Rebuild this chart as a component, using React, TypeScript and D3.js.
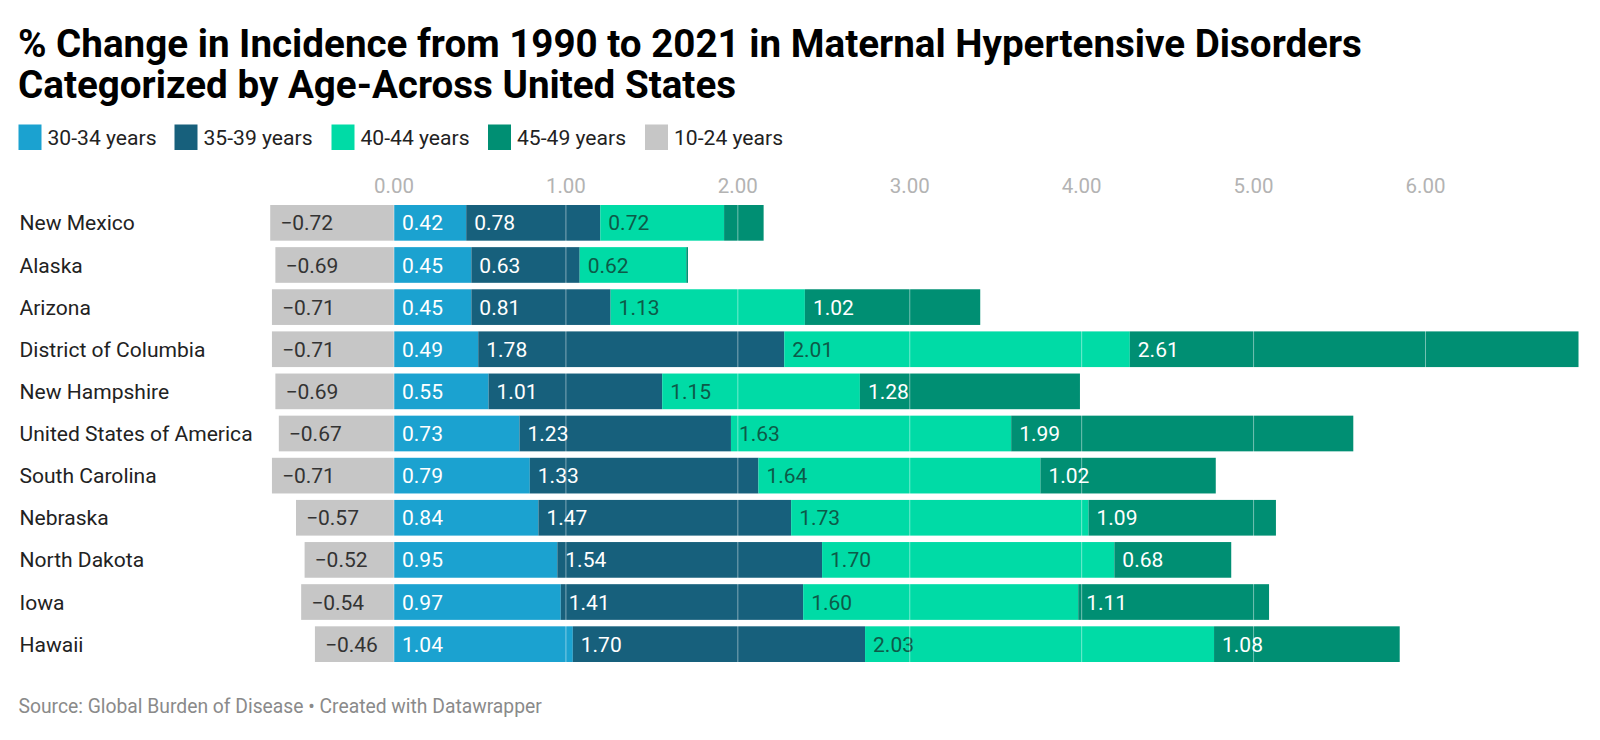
import React from "react";
import * as d3 from "d3";

const states = [
  "New Mexico",
  "Alaska",
  "Arizona",
  "District of Columbia",
  "New Hampshire",
  "United States of America",
  "South Carolina",
  "Nebraska",
  "North Dakota",
  "Iowa",
  "Hawaii",
];

const age1024 = [-0.72, -0.69, -0.71, -0.71, -0.69, -0.67, -0.71, -0.57, -0.52, -0.54, -0.46];
const age3034 = [0.42, 0.45, 0.45, 0.49, 0.55, 0.73, 0.79, 0.84, 0.95, 0.97, 1.04];
const age3539 = [0.78, 0.63, 0.81, 1.78, 1.01, 1.23, 1.33, 1.47, 1.54, 1.41, 1.7];
const age4044 = [0.72, 0.62, 1.13, 2.01, 1.15, 1.63, 1.64, 1.73, 1.7, 1.6, 2.03];
const age4549 = [0.23, 0.01, 1.02, 2.61, 1.28, 1.99, 1.02, 1.09, 0.68, 1.11, 1.08];

const legendNames = ["30-34 years", "35-39 years", "40-44 years", "45-49 years", "10-24 years"];
const seriesColors = ["#1ba2d0", "#17607c", "#00dba6", "#008f73"];
const negColor = "#c6c6c6";
const legendColors = [...seriesColors, negColor];
const tickValues = [0, 1, 2, 3, 4, 5, 6];

const positiveSeries = [age3034, age3539, age4044, age4549];
const labelColors = ["#ffffff", "#ffffff", "#0d5a48", "#ffffff"];

const fmt = (v: number) => (v < 0 ? "\u2212" + Math.abs(v).toFixed(2) : v.toFixed(2));

export default function App() {
  const width = 1600;
  const height = 740;
  const x = d3.scaleLinear().domain([0, 6]).range([394, 1425.5]);
  const y = d3
    .scaleBand()
    .domain(states)
    .range([205, 662])
    .paddingInner(0.153)
    .paddingOuter(0);
  const bh = y.bandwidth();
  const font = "Roboto, 'Noto Sans', sans-serif";

  const legendX = [18.5, 174.5, 331.5, 488, 645];

  return (
    <>
      <style>{`html,body{margin:0;padding:0;overflow:hidden;}`}</style>
      <svg
        width={width}
        height={height}
        style={{ display: "block", background: "#fff" }}
        fontFamily={font}
      >
        <text x={18} y={57} fontSize={38.6} fontWeight={700} fill="#000">
          % Change in Incidence from 1990 to 2021 in Maternal Hypertensive Disorders
        </text>
        <text x={18} y={98} fontSize={38.6} fontWeight={700} fill="#000">
          Categorized by Age-Across United States
        </text>

        {legendNames.map((n, i) => (
          <g key={n}>
            <rect x={legendX[i]} y={124.5} width={23} height={25.5} fill={legendColors[i]} />
            <text x={legendX[i] + 29} y={144.5} fontSize={21.1} fill="#222">
              {n}
            </text>
          </g>
        ))}

        {tickValues.map((t) => (
          <text key={t} x={x(t)} y={193} fontSize={20.5} fill="#b3b3b3" textAnchor="middle">
            {t.toFixed(2)}
          </text>
        ))}

        {states.map((s, i) => {
          const yy = y(s) as number;
          const cy = yy + bh / 2;
          let cum = 0;
          const segs = positiveSeries.map((ser, k) => {
            const v = ser[i];
            const x0 = x(cum);
            cum += v;
            const x1 = x(cum);
            return { k, v, x0, x1 };
          });
          const neg = age1024[i];
          return (
            <g key={s}>
              <text x={19.5} y={cy + 7.6} fontSize={21.05} fill="#222">
                {s}
              </text>
              <rect x={x(neg)} y={yy} width={x(0) - x(neg)} height={bh} fill={negColor} />
              <text x={x(neg) + 10} y={cy + 7.6} fontSize={21} fill="#333">
                {fmt(neg)}
              </text>
              {segs.map((sg) => (
                <rect
                  key={sg.k}
                  x={sg.x0}
                  y={yy}
                  width={Math.max(0, sg.x1 - sg.x0)}
                  height={bh}
                  fill={seriesColors[sg.k]}
                />
              ))}
              {segs.map((sg) =>
                sg.x1 - sg.x0 > 52 ? (
                  <text
                    key={"l" + sg.k}
                    x={sg.x0 + 8}
                    y={cy + 7.6}
                    fontSize={21}
                    fill={labelColors[sg.k]}
                  >
                    {fmt(sg.v)}
                  </text>
                ) : null
              )}
            </g>
          );
        })}

        {tickValues.map((t) => (
          <line
            key={"g" + t}
            x1={x(t)}
            x2={x(t)}
            y1={205}
            y2={662}
            stroke="#ffffff"
            strokeOpacity={0.45}
            strokeWidth={1}
          />
        ))}

        <text x={18.5} y={713} fontSize={19.3} fill="#8a8a8a">
          Source: Global Burden of Disease • Created with Datawrapper
        </text>
      </svg>
    </>
  );
}
